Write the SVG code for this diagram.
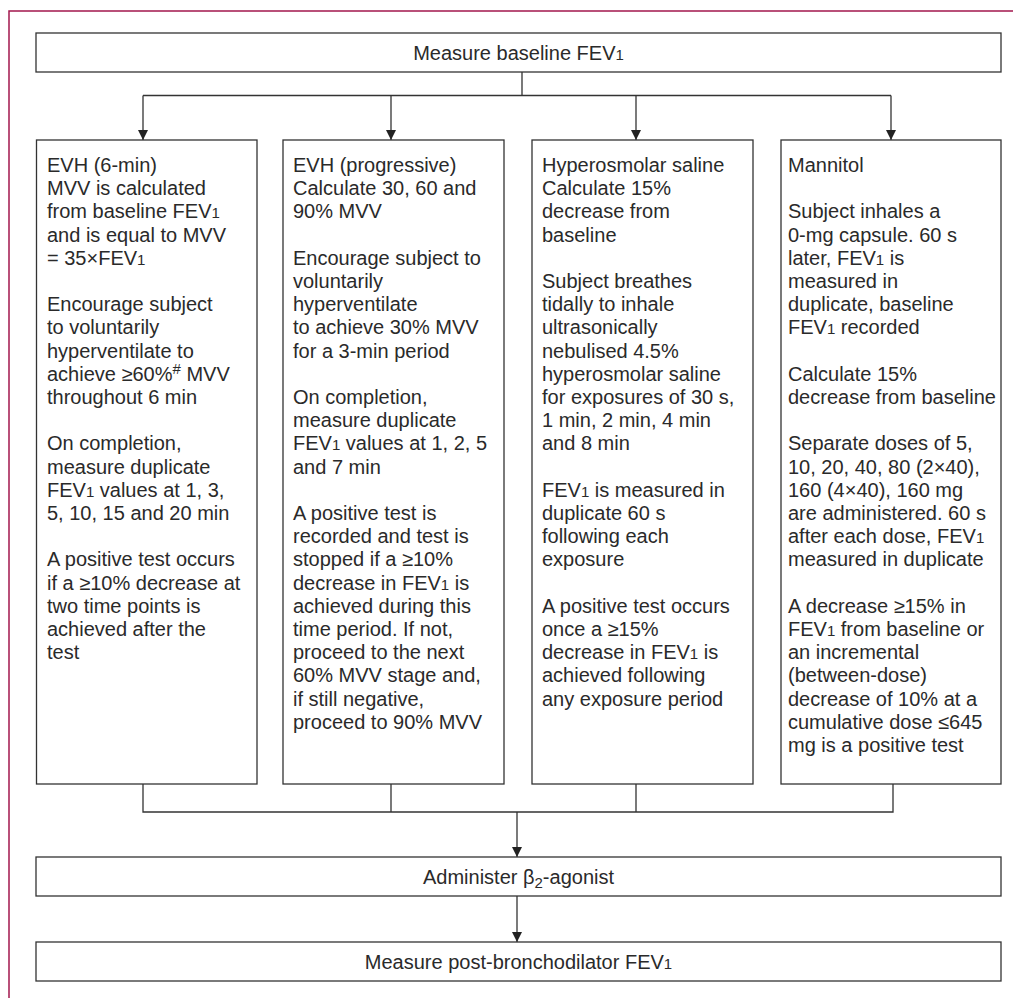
<svg xmlns="http://www.w3.org/2000/svg" width="1013" height="1000" viewBox="0 0 1013 1000">
<defs>
<marker id="ah" markerUnits="userSpaceOnUse" markerWidth="10" markerHeight="11" refX="10" refY="5" orient="auto">
<path d="M0,0 L10,5 L0,10 z" fill="#222"/>
</marker>
<style>
.box{fill:#fff;stroke:#333;stroke-width:1.3}
.ln{fill:none;stroke:#333;stroke-width:1.3}
.t{font-family:"Liberation Sans",Arial,sans-serif;font-size:20px;fill:#2a2a2a}
.c{text-anchor:middle}
.s{font-size:15px}
.frame{fill:none;stroke:#a3174d;stroke-width:1.5}
</style>
</defs>
<rect width="1013" height="1000" fill="#fff"/>
<path class="frame" d="M1013,11 H9 V998"/>

<g id="connectors">
<path class="ln" d="M522,72 V95.5 M143,95.5 H891"/>
<path class="ln" d="M143,95.5 V140" marker-end="url(#ah)"/>
<path class="ln" d="M391,95.5 V140" marker-end="url(#ah)"/>
<path class="ln" d="M636,95.5 V140" marker-end="url(#ah)"/>
<path class="ln" d="M891,95.5 V140" marker-end="url(#ah)"/>
<path class="ln" d="M143,784 V812 H893 V784 M391,784 V812 M636,784 V812"/>
<path class="ln" d="M517,812 V857" marker-end="url(#ah)"/>
<path class="ln" d="M517,896 V942" marker-end="url(#ah)"/>
</g>

<g id="n-baseline">
<rect class="box" x="36" y="33" width="965" height="39"/>
<text class="t c" x="518.5" y="60">Measure baseline FEV<tspan class="s">1</tspan></text>
</g>

<g id="n-evh6">
<rect class="box" x="36.5" y="140" width="220.5" height="644"/>
<text class="t">
<tspan x="47" y="172">EVH (6-min)</tspan>
<tspan x="47" y="195.2">MVV is calculated</tspan>
<tspan x="47" y="218.4">from baseline FEV<tspan class="s">1</tspan></tspan>
<tspan x="47" y="241.6">and is equal to MVV</tspan>
<tspan x="47" y="264.8">= 35×FEV<tspan class="s">1</tspan></tspan>
<tspan x="47" y="311.2">Encourage subject</tspan>
<tspan x="47" y="334.4">to voluntarily</tspan>
<tspan x="47" y="357.6">hyperventilate to</tspan>
<tspan x="47" y="380.8">achieve ≥60%<tspan class="s" dy="-7">#</tspan><tspan dy="7"> MVV</tspan></tspan>
<tspan x="47" y="404">throughout 6 min</tspan>
<tspan x="47" y="450.4">On completion,</tspan>
<tspan x="47" y="473.6">measure duplicate</tspan>
<tspan x="47" y="496.8">FEV<tspan class="s">1</tspan> values at 1, 3,</tspan>
<tspan x="47" y="520">5, 10, 15 and 20 min</tspan>
<tspan x="47" y="566.4">A positive test occurs</tspan>
<tspan x="47" y="589.6">if a ≥10% decrease at</tspan>
<tspan x="47" y="612.8">two time points is</tspan>
<tspan x="47" y="636">achieved after the</tspan>
<tspan x="47" y="659.2">test</tspan>
</text>
</g>

<g id="n-evhprog">
<rect class="box" x="283" y="140" width="221" height="644"/>
<text class="t">
<tspan x="293" y="172">EVH (progressive)</tspan>
<tspan x="293" y="195.2">Calculate 30, 60 and</tspan>
<tspan x="293" y="218.4">90% MVV</tspan>
<tspan x="293" y="264.8">Encourage subject to</tspan>
<tspan x="293" y="288">voluntarily</tspan>
<tspan x="293" y="311.2">hyperventilate</tspan>
<tspan x="293" y="334.4">to achieve 30% MVV</tspan>
<tspan x="293" y="357.6">for a 3-min period</tspan>
<tspan x="293" y="404">On completion,</tspan>
<tspan x="293" y="427.2">measure duplicate</tspan>
<tspan x="293" y="450.4">FEV<tspan class="s">1</tspan> values at 1, 2, 5</tspan>
<tspan x="293" y="473.6">and 7 min</tspan>
<tspan x="293" y="520">A positive test is</tspan>
<tspan x="293" y="543.2">recorded and test is</tspan>
<tspan x="293" y="566.4">stopped if a ≥10%</tspan>
<tspan x="293" y="589.6">decrease in FEV<tspan class="s">1</tspan> is</tspan>
<tspan x="293" y="612.8">achieved during this</tspan>
<tspan x="293" y="636">time period. If not,</tspan>
<tspan x="293" y="659.2">proceed to the next</tspan>
<tspan x="293" y="682.4">60% MVV stage and,</tspan>
<tspan x="293" y="705.6">if still negative,</tspan>
<tspan x="293" y="728.8">proceed to 90% MVV</tspan>
</text>
</g>

<g id="n-saline">
<rect class="box" x="532" y="140" width="221" height="644"/>
<text class="t">
<tspan x="542" y="172">Hyperosmolar saline</tspan>
<tspan x="542" y="195.2">Calculate 15%</tspan>
<tspan x="542" y="218.4">decrease from</tspan>
<tspan x="542" y="241.6">baseline</tspan>
<tspan x="542" y="288">Subject breathes</tspan>
<tspan x="542" y="311.2">tidally to inhale</tspan>
<tspan x="542" y="334.4">ultrasonically</tspan>
<tspan x="542" y="357.6">nebulised 4.5%</tspan>
<tspan x="542" y="380.8">hyperosmolar saline</tspan>
<tspan x="542" y="404">for exposures of 30 s,</tspan>
<tspan x="542" y="427.2">1 min, 2 min, 4 min</tspan>
<tspan x="542" y="450.4">and 8 min</tspan>
<tspan x="542" y="496.8">FEV<tspan class="s">1</tspan> is measured in</tspan>
<tspan x="542" y="520">duplicate 60 s</tspan>
<tspan x="542" y="543.2">following each</tspan>
<tspan x="542" y="566.4">exposure</tspan>
<tspan x="542" y="612.8">A positive test occurs</tspan>
<tspan x="542" y="636">once a ≥15%</tspan>
<tspan x="542" y="659.2">decrease in FEV<tspan class="s">1</tspan> is</tspan>
<tspan x="542" y="682.4">achieved following</tspan>
<tspan x="542" y="705.6">any exposure period</tspan>
</text>
</g>

<g id="n-mannitol">
<rect class="box" x="781" y="140" width="220" height="644"/>
<text class="t">
<tspan x="788" y="172">Mannitol</tspan>
<tspan x="788" y="218.4">Subject inhales a</tspan>
<tspan x="788" y="241.6">0-mg capsule. 60 s</tspan>
<tspan x="788" y="264.8">later, FEV<tspan class="s">1</tspan> is</tspan>
<tspan x="788" y="288">measured in</tspan>
<tspan x="788" y="311.2">duplicate, baseline</tspan>
<tspan x="788" y="334.4">FEV<tspan class="s">1</tspan> recorded</tspan>
<tspan x="788" y="380.8">Calculate 15%</tspan>
<tspan x="788" y="404">decrease from baseline</tspan>
<tspan x="788" y="450.4">Separate doses of 5,</tspan>
<tspan x="788" y="473.6">10, 20, 40, 80 (2×40),</tspan>
<tspan x="788" y="496.8">160 (4×40), 160 mg</tspan>
<tspan x="788" y="520">are administered. 60 s</tspan>
<tspan x="788" y="543.2">after each dose, FEV<tspan class="s">1</tspan></tspan>
<tspan x="788" y="566.4">measured in duplicate</tspan>
<tspan x="788" y="612.8">A decrease ≥15% in</tspan>
<tspan x="788" y="636">FEV<tspan class="s">1</tspan> from baseline or</tspan>
<tspan x="788" y="659.2">an incremental</tspan>
<tspan x="788" y="682.4">(between-dose)</tspan>
<tspan x="788" y="705.6">decrease of 10% at a</tspan>
<tspan x="788" y="728.8">cumulative dose ≤645</tspan>
<tspan x="788" y="752">mg is a positive test</tspan>
</text>
</g>

<g id="n-agonist">
<rect class="box" x="36" y="857" width="965" height="39"/>
<text class="t c" x="518.5" y="884">Administer β<tspan class="s" dy="4">2</tspan><tspan dy="-4">-agonist</tspan></text>
</g>

<g id="n-post">
<rect class="box" x="36" y="942" width="965" height="39"/>
<text class="t c" x="518.5" y="969">Measure post-bronchodilator FEV<tspan class="s">1</tspan></text>
</g>
</svg>
